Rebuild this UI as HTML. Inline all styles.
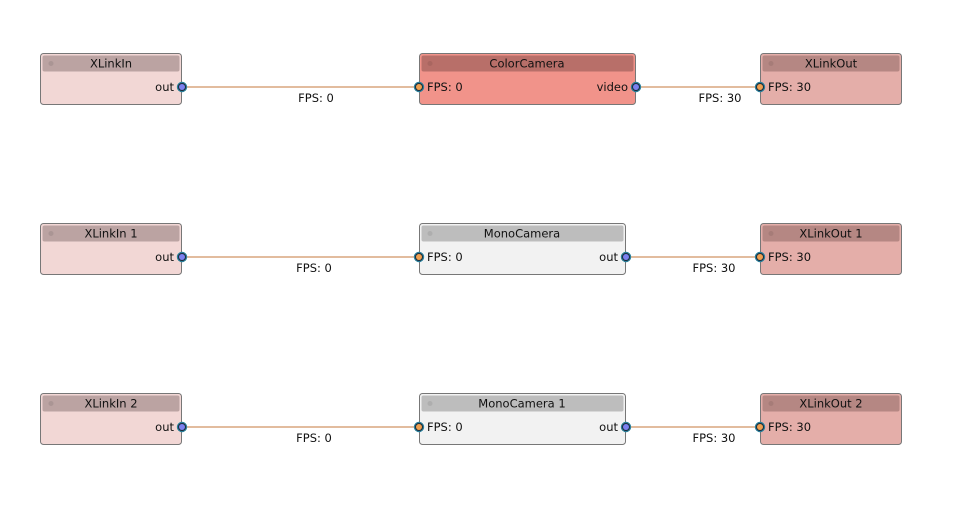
<!DOCTYPE html>
<html><head><meta charset="utf-8"><style>
html,body{margin:0;padding:0;background:#fff;width:977px;height:513px;overflow:hidden}
text{font-family:"DejaVu Sans","Liberation Sans",sans-serif;font-size:11.5px;fill:#111}
</style></head><body>
<svg width="977" height="513" xmlns="http://www.w3.org/2000/svg">
<defs>
<g id="pin"><circle r="5.2" fill="#2a7f9a"/><circle r="4" fill="#1b2a3a"/><circle r="3" fill="#7b80ef"/></g>
<g id="pinI"><circle r="5.2" fill="#2a7f9a"/><circle r="4" fill="#1b2a3a"/><circle r="3" fill="#f0a050"/></g>
</defs>
<g id="row0">
<line x1="182" y1="87" x2="419" y2="87" stroke="#c47a3c" stroke-width="1"/>
<line x1="636" y1="87" x2="760" y2="87" stroke="#c47a3c" stroke-width="1"/>
<text x="316" y="102" text-anchor="middle">FPS: 0</text>
<text x="720" y="102" text-anchor="middle">FPS: 30</text>
<rect x="40.5" y="53.5" width="141" height="51" rx="3" fill="#f2d7d5" stroke="#777"/>
<rect x="42.5" y="55.5" width="137" height="16" rx="2" fill="#bba3a2"/>
<circle cx="51" cy="63.5" r="2.5" fill="#aa9594"/>
<text x="111" y="67.5" text-anchor="middle">XLinkIn</text>
<text x="174" y="91" text-anchor="end">out</text>
<use href="#pin" x="182" y="87"/>
<rect x="419.5" y="53.5" width="216" height="51" rx="3" fill="#f1938a" stroke="#777"/>
<rect x="421.5" y="55.5" width="212" height="16" rx="2" fill="#b86f69"/>
<circle cx="430" cy="63.5" r="2.5" fill="#a96660"/>
<text x="527" y="67.5" text-anchor="middle">ColorCamera</text>
<text x="427" y="91">FPS: 0</text>
<text x="628" y="91" text-anchor="end">video</text>
<use href="#pinI" x="419" y="87"/>
<use href="#pin" x="636" y="87"/>
<rect x="760.5" y="53.5" width="141" height="51" rx="3" fill="#e4aea9" stroke="#777"/>
<rect x="762.5" y="55.5" width="137" height="16" rx="2" fill="#b58783"/>
<circle cx="771" cy="63.5" r="2.5" fill="#a67c78"/>
<text x="831" y="67.5" text-anchor="middle">XLinkOut</text>
<text x="768" y="91">FPS: 30</text>
<use href="#pinI" x="760" y="87"/>
</g>
<g transform="translate(0,170)">
<line x1="182" y1="87" x2="419" y2="87" stroke="#c47a3c" stroke-width="1"/>
<line x1="626" y1="87" x2="760" y2="87" stroke="#c47a3c" stroke-width="1"/>
<text x="314" y="102" text-anchor="middle">FPS: 0</text>
<text x="714" y="102" text-anchor="middle">FPS: 30</text>
<rect x="40.5" y="53.5" width="141" height="51" rx="3" fill="#f2d7d5" stroke="#777"/>
<rect x="42.5" y="55.5" width="137" height="16" rx="2" fill="#bba3a2"/>
<circle cx="51" cy="63.5" r="2.5" fill="#aa9594"/>
<text x="111" y="67.5" text-anchor="middle">XLinkIn 1</text>
<text x="174" y="91" text-anchor="end">out</text>
<use href="#pin" x="182" y="87"/>
<rect x="419.5" y="53.5" width="206" height="51" rx="3" fill="#f2f2f2" stroke="#777"/>
<rect x="421.5" y="55.5" width="202" height="16" rx="2" fill="#bdbdbd"/>
<circle cx="430" cy="63.5" r="2.5" fill="#aeaeae"/>
<text x="522" y="67.5" text-anchor="middle">MonoCamera</text>
<text x="427" y="91">FPS: 0</text>
<text x="618" y="91" text-anchor="end">out</text>
<use href="#pinI" x="419" y="87"/>
<use href="#pin" x="626" y="87"/>
<rect x="760.5" y="53.5" width="141" height="51" rx="3" fill="#e4aea9" stroke="#777"/>
<rect x="762.5" y="55.5" width="137" height="16" rx="2" fill="#b58783"/>
<circle cx="771" cy="63.5" r="2.5" fill="#a67c78"/>
<text x="831" y="67.5" text-anchor="middle">XLinkOut 1</text>
<text x="768" y="91">FPS: 30</text>
<use href="#pinI" x="760" y="87"/>
</g>
<g transform="translate(0,340)">
<line x1="182" y1="87" x2="419" y2="87" stroke="#c47a3c" stroke-width="1"/>
<line x1="626" y1="87" x2="760" y2="87" stroke="#c47a3c" stroke-width="1"/>
<text x="314" y="102" text-anchor="middle">FPS: 0</text>
<text x="714" y="102" text-anchor="middle">FPS: 30</text>
<rect x="40.5" y="53.5" width="141" height="51" rx="3" fill="#f2d7d5" stroke="#777"/>
<rect x="42.5" y="55.5" width="137" height="16" rx="2" fill="#bba3a2"/>
<circle cx="51" cy="63.5" r="2.5" fill="#aa9594"/>
<text x="111" y="67.5" text-anchor="middle">XLinkIn 2</text>
<text x="174" y="91" text-anchor="end">out</text>
<use href="#pin" x="182" y="87"/>
<rect x="419.5" y="53.5" width="206" height="51" rx="3" fill="#f2f2f2" stroke="#777"/>
<rect x="421.5" y="55.5" width="202" height="16" rx="2" fill="#bdbdbd"/>
<circle cx="430" cy="63.5" r="2.5" fill="#aeaeae"/>
<text x="522" y="67.5" text-anchor="middle">MonoCamera 1</text>
<text x="427" y="91">FPS: 0</text>
<text x="618" y="91" text-anchor="end">out</text>
<use href="#pinI" x="419" y="87"/>
<use href="#pin" x="626" y="87"/>
<rect x="760.5" y="53.5" width="141" height="51" rx="3" fill="#e4aea9" stroke="#777"/>
<rect x="762.5" y="55.5" width="137" height="16" rx="2" fill="#b58783"/>
<circle cx="771" cy="63.5" r="2.5" fill="#a67c78"/>
<text x="831" y="67.5" text-anchor="middle">XLinkOut 2</text>
<text x="768" y="91">FPS: 30</text>
<use href="#pinI" x="760" y="87"/>
</g>
</svg>
</body></html>
